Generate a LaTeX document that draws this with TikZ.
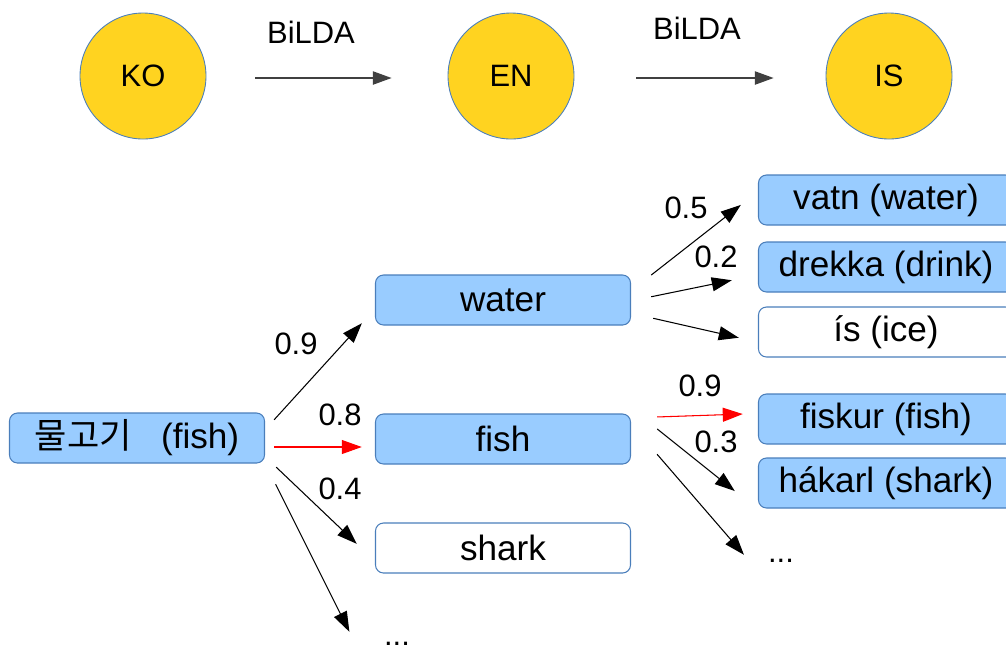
\documentclass[tikz,border=0pt]{standalone}
\usepackage{fontspec}
\setmainfont{Liberation Sans}
\newfontfamily\kofont{Noto Sans CJK KR}
\usetikzlibrary{arrows.meta}
\pgfdeclarelayer{edgelayer}
\pgfdeclarelayer{nodelayer}
\pgfsetlayers{edgelayer,nodelayer,main}
\definecolor{langgold}{HTML}{FFD320}
\definecolor{boxblue}{HTML}{99CCFF}
\definecolor{rimblue}{HTML}{4A7EBB}
\tikzstyle{none}=[inner sep=0pt]
\tikzstyle{lang}=[circle,fill=langgold,draw=rimblue,line width=0.5pt,minimum size=2.52cm,font=\fontsize{17.6}{20}\selectfont]
\tikzstyle{word}=[rectangle,rounded corners=0.16cm,fill=boxblue,draw=rimblue,line width=0.6pt,minimum width=5.1cm,minimum height=1.0cm,font=\fontsize{20}{24}\selectfont]
\tikzstyle{plain}=[word,fill=white]
\tikzstyle{prob}=[inner sep=0pt,font=\fontsize{17.6}{20}\selectfont]
\tikzstyle{model}=[-{Triangle[length=0.38cm,width=0.26cm]},draw=black!75,line width=1.4pt]
\tikzstyle{trans}=[-{Triangle[length=0.40cm,width=0.28cm]},draw=black,line width=0.6pt]
\tikzstyle{best}=[-{Triangle[length=0.40cm,width=0.28cm]},draw=red,fill=red,line width=0.6pt]

\begin{document}
\begin{tikzpicture}
					\useasboundingbox (0.000,0.000) rectangle (20.120,-12.920);
					\begin{pgfonlayer}{nodelayer}
						\node [style=lang] (ko) at (2.860,-1.520) {KO};
						\node [style=lang] (en) at (10.220,-1.520) {EN};
						\node [style=lang] (is) at (17.780,-1.520) {IS};
						\node [style=none] (bilda) at (5.080,-1.560) {};
						\node [style=none] (bilda0) at (7.860,-1.560) {};
						\node [style=prob] (bildatext) at (6.220,-0.640) {BiLDA};
						\node [style=none] (bildb) at (12.700,-1.560) {};
						\node [style=none] (bildb0) at (15.500,-1.560) {};
						\node [style=prob] (bildbtext) at (13.940,-0.560) {BiLDA};
						\node [style=word] (mulgogi) at (2.740,-8.760) {{\kofont 물고기}\ \ \ (fish)};
						\node [style=word] (water) at (10.060,-6.000) {water};
						\node [style=word] (fish) at (10.060,-8.780) {fish};
						\node [style=plain] (shark) at (10.060,-10.960) {shark};
						\node [style=word] (vatn) at (17.720,-4.000) {vatn (water)};
						\node [style=word] (drekka) at (17.720,-5.340) {drekka (drink)};
						\node [style=plain] (iss) at (17.720,-6.640) {ís (ice)};
						\node [style=word] (fiskur) at (17.720,-8.380) {fiskur (fish)};
						\node [style=word] (hakarl) at (17.720,-9.660) {hákarl (shark)};
						\node [style=prob] (dots) at (15.620,-11.220) {...};
						\node [style=prob] (dots0) at (7.940,-12.880) {...};
						\node [style=none] (kw) at (5.460,-8.420) {};
						\node [style=none] (kw0) at (7.260,-6.440) {};
						\node [style=prob] (kwp) at (5.920,-6.880) {0.9};
						\node [style=none] (kf) at (5.460,-8.940) {};
						\node [style=none] (kf0) at (7.260,-8.940) {};
						\node [style=prob] (kfp) at (6.800,-8.300) {0.8};
						\node [style=none] (ks) at (5.500,-9.320) {};
						\node [style=none] (ks0) at (7.160,-10.900) {};
						\node [style=prob] (ksp) at (6.800,-9.780) {0.4};
						\node [style=none] (kd) at (5.500,-9.660) {};
						\node [style=none] (kd0) at (7.000,-12.660) {};
						\node [style=none] (wv) at (13.000,-5.520) {};
						\node [style=none] (wv0) at (14.840,-4.080) {};
						\node [style=prob] (wvp) at (13.720,-4.160) {0.5};
						\node [style=none] (wd) at (13.000,-5.940) {};
						\node [style=none] (wd0) at (14.660,-5.600) {};
						\node [style=prob] (wdp) at (14.320,-5.140) {0.2};
						\node [style=none] (wi) at (13.040,-6.360) {};
						\node [style=none] (wi0) at (14.800,-6.760) {};
						\node [style=none] (ff) at (13.120,-8.340) {};
						\node [style=none] (ff0) at (14.880,-8.280) {};
						\node [style=prob] (ffp) at (14.000,-7.720) {0.9};
						\node [style=none] (fh) at (13.120,-8.560) {};
						\node [style=none] (fh0) at (14.720,-9.840) {};
						\node [style=prob] (fhp) at (14.320,-8.840) {0.3};
						\node [style=none] (fd) at (13.120,-9.060) {};
						\node [style=none] (fd0) at (14.900,-11.120) {};
					\end{pgfonlayer}
					\begin{pgfonlayer}{edgelayer}
						\draw [style=model] (bilda) to (bilda0);
						\draw [style=model] (bildb) to (bildb0);
						\draw [style=trans] (kw) to (kw0);
						\draw [style=best] (kf) to (kf0);
						\draw [style=trans] (ks) to (ks0);
						\draw [style=trans] (kd) to (kd0);
						\draw [style=trans] (wv) to (wv0);
						\draw [style=trans] (wd) to (wd0);
						\draw [style=trans] (wi) to (wi0);
						\draw [style=best] (ff) to (ff0);
						\draw [style=trans] (fh) to (fh0);
						\draw [style=trans] (fd) to (fd0);
					\end{pgfonlayer}
				\end{tikzpicture}
\end{document}
